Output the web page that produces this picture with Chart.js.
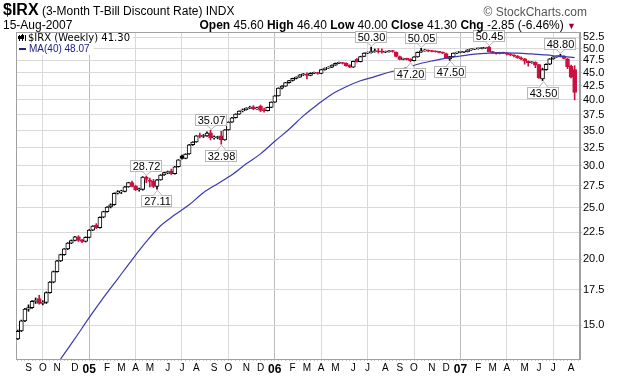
<!DOCTYPE html>
<html>
<head>
<meta charset="utf-8">
<title>$IRX weekly</title>
<script src="https://cdn.jsdelivr.net/npm/chart.js@4.4.0/dist/chart.umd.min.js"></script>
<style>
  html, body { margin: 0; padding: 0; background: #fff; }
  #wrap { position: relative; width: 620px; height: 376px; font-family: 'Liberation Sans', Arial, sans-serif; }
  #chart { position: absolute; left: 0; top: 0; }
  .hd { position: absolute; white-space: nowrap; color: #000; font-size: 12px; line-height: 14px; }
</style>
</head>
<body>
<div id="wrap">
  <canvas id="chart" width="620" height="376"></canvas>
  <div class="hd" style="left:3px;top:3px;"><b style="font-size:16px">$IRX</b> (3-Month T-Bill Discount Rate) INDX</div>
  <div class="hd" style="right:33px;top:5px;color:#555;">© StockCharts.com</div>
  <div class="hd" style="left:3px;top:18px;">15-Aug-2007</div>
  <div class="hd" style="right:44px;top:18px;"><b>Open</b> 45.60 <b>High</b> 46.40 <b>Low</b> 40.00 <b>Close</b> 41.30 <b>Chg</b> -2.85 (-6.46%) <span style="color:#a00030;font-size:9px">&#9660;</span></div>
</div>
<script>
// weekly bars, first week starts Mon 16-Aug-2004, last week 13-Aug-2007
const firstWeek = '2004-08-16';

const opens = [
  14.15,14.65,15.30,16.10,16.20,16.65,16.85,16.50,16.58,17.30,
  18.10,18.95,19.85,20.40,20.92,21.45,21.70,22.05,21.65,21.62,
  22.00,22.70,23.20,22.95,24.00,24.60,25.10,25.35,26.65,26.80,
  26.85,27.40,27.90,27.45,27.05,27.08,28.60,28.10,28.05,27.45,
  28.25,28.85,29.15,29.35,29.00,29.90,31.35,31.00,31.60,32.90,
  33.30,34.25,34.10,34.20,34.65,33.90,33.95,34.20,33.60,35.10,
  36.30,37.00,37.60,38.10,38.30,38.60,38.80,38.45,38.90,38.20,
  38.15,38.70,39.60,40.70,42.10,42.45,43.10,43.50,43.90,44.15,
  44.60,44.70,44.50,44.90,45.00,44.85,45.60,45.90,46.10,46.50,
  46.90,47.00,46.90,46.50,46.10,47.70,47.20,48.30,49.00,49.10,
  49.30,49.50,49.30,49.20,49.30,49.40,49.20,48.30,47.70,47.80,
  47.75,47.40,48.20,49.20,49.50,49.60,49.45,49.35,49.30,49.15,
  48.90,47.80,48.25,49.00,49.15,49.20,49.30,49.70,49.85,49.95,
  50.00,50.10,50.30,49.30,49.10,48.95,49.05,49.00,48.80,48.60,
  48.40,48.00,47.80,47.30,47.00,47.10,46.60,43.80,45.60,46.70,
  47.80,48.20,48.30,48.40,47.80,46.30,45.60
];
const highs = [
  14.70,15.35,16.15,16.40,16.70,16.90,17.10,16.70,17.35,18.15,
  19.00,19.90,20.45,20.95,21.50,21.75,22.10,22.15,21.80,22.05,
  22.75,23.15,23.35,24.05,24.65,25.15,25.45,26.70,26.95,27.00,
  27.45,27.95,28.10,27.60,27.25,28.65,28.72,28.45,28.30,28.30,
  28.90,29.20,29.35,29.60,29.95,30.85,31.45,31.65,32.95,33.35,
  34.25,34.60,34.40,34.80,35.07,34.20,34.15,34.90,35.15,36.35,
  37.05,37.65,38.15,38.45,38.65,38.90,39.00,38.75,39.10,38.60,
  38.75,39.65,40.75,42.15,42.55,43.15,43.55,43.95,44.20,44.65,
  44.85,45.00,45.00,45.15,45.10,45.65,45.95,46.20,46.55,46.95,
  47.15,47.10,47.00,46.60,47.35,47.85,48.35,49.05,49.25,50.30,
  49.90,50.00,49.95,49.45,49.55,49.60,49.30,48.40,47.95,47.95,
  47.85,48.25,49.25,50.05,49.80,49.70,49.60,49.50,49.40,49.25,
  49.00,48.30,49.05,49.25,49.35,49.40,49.75,49.95,50.05,50.10,
  50.20,50.25,50.45,49.40,49.20,49.20,49.20,49.10,48.90,48.70,
  48.50,48.20,47.90,47.40,47.20,47.20,46.70,45.90,46.80,47.85,
  48.25,48.40,48.80,48.50,47.90,46.50,46.40
];
const lows = [
  14.10,14.60,15.25,15.95,16.15,16.50,16.45,16.40,16.50,17.25,
  18.05,18.90,19.80,20.35,20.85,21.40,21.65,21.60,21.50,21.55,
  21.95,22.65,22.85,22.90,23.95,24.55,25.00,25.30,26.55,26.60,
  26.80,27.35,27.40,26.95,26.90,27.00,27.90,27.40,27.30,27.11,
  28.20,28.80,29.00,28.90,28.95,29.85,30.90,30.95,31.55,32.80,
  33.25,33.90,33.95,34.10,33.60,33.70,33.75,32.98,33.55,35.05,
  36.25,36.95,37.55,37.95,38.25,38.50,38.30,38.35,38.00,37.90,
  38.10,38.65,39.55,40.65,41.95,42.40,43.00,43.40,43.80,44.10,
  44.45,43.80,44.40,44.80,44.70,44.80,45.50,45.85,46.00,46.45,
  46.80,46.75,46.30,46.00,46.05,47.10,47.15,48.25,48.90,49.00,
  49.20,49.00,49.00,49.10,49.20,49.20,48.20,47.60,47.60,47.60,
  47.20,47.35,48.15,49.15,49.40,49.30,49.25,49.20,49.05,48.90,
  47.90,47.50,48.20,48.90,49.05,49.10,49.25,49.60,49.75,49.85,
  49.90,50.00,49.25,48.95,48.80,48.85,48.90,48.60,48.45,48.20,
  47.90,47.60,46.70,46.30,46.90,46.00,43.90,43.50,45.50,46.60,
  47.70,48.10,48.20,47.80,45.80,44.00,40.00
];
const closes = [
  14.62,15.30,16.10,16.20,16.65,16.72,16.50,16.58,17.30,18.10,
  18.95,19.85,20.40,20.92,21.45,21.70,22.05,21.70,21.62,22.00,
  22.70,23.10,22.95,24.00,24.60,25.10,25.35,26.65,26.80,26.85,
  27.40,27.90,27.45,27.05,27.08,28.60,28.30,28.05,27.45,28.25,
  28.85,29.15,29.20,29.00,29.90,30.80,31.00,31.60,32.90,33.30,
  34.20,34.10,34.20,34.60,33.90,33.95,34.00,33.60,35.10,36.30,
  37.00,37.60,38.10,38.30,38.60,38.70,38.45,38.60,38.20,38.15,
  38.70,39.60,40.70,42.10,42.45,43.10,43.50,43.90,44.15,44.60,
  44.70,44.50,44.90,45.00,44.85,45.60,45.90,46.10,46.50,46.90,
  47.00,46.85,46.40,46.10,47.30,47.20,48.30,49.00,49.10,49.30,
  49.50,49.30,49.20,49.30,49.40,49.35,48.30,47.70,47.80,47.70,
  47.40,48.20,49.20,49.50,49.60,49.45,49.35,49.30,49.15,49.00,
  48.00,48.25,49.00,49.15,49.20,49.30,49.70,49.85,49.95,50.00,
  50.10,50.15,49.30,49.10,48.95,49.05,49.00,48.80,48.60,48.40,
  48.00,47.80,47.30,47.00,47.10,46.50,44.00,45.60,46.70,47.80,
  48.20,48.30,48.35,47.90,46.20,44.15,41.30
];

// MA(40), every four weeks (week index -> value)
const maWeeks  = [10,12,16,20,24,28,32,36,40,44,48,52,56,60,64,68,72,76,80,84,88,92,96,100,104,108,112,116,120,124,128,132,136,140,144,148,152,156];
const maValues = [12.43,12.96,14.16,15.51,16.92,18.37,19.95,21.58,23.13,24.26,25.34,26.71,27.77,28.87,30.28,31.62,33.40,35.20,37.30,39.20,41.00,42.35,43.45,44.25,45.10,45.80,46.70,47.35,47.95,48.40,48.80,49.00,49.05,49.00,48.83,48.62,48.30,48.07];

// price labels on swing points
const annWeeks  = [36, 39, 54, 57, 99, 110, 113, 121, 132, 147, 152];
const annValues = [28.72, 27.11, 35.07, 32.98, 50.30, 47.20, 50.05, 47.50, 50.45, 43.50, 48.80];
const annSide   = ['up','down','up','down','up','down','up','down','up','down','up'];

const yTicks = [15.0, 17.5, 20.0, 22.5, 25.0, 27.5, 30.0, 32.5, 35.0, 37.5, 40.0, 42.5, 45.0, 47.5, 50.0, 52.5];
const monthLetters = ['J','F','M','A','M','J','J','A','S','O','N','D'];

// one empty week after the last bar, as on the original
const weekLabels = [];
(function() {
  const t0 = Date.parse(firstWeek + 'T00:00:00Z');
  for (let i = 0; i <= opens.length; i++) {
    weekLabels.push(new Date(t0 + i * 7 * 86400000).toISOString().slice(0, 10));
  }
})();

// tick text on the first week of each month, year number in January
// (the partial first month gets no label)
const tickText = weekLabels.map(function(d, i) {
  if (i === 0 || weekLabels[i - 1].slice(5, 7) === d.slice(5, 7)) return '';
  const m = parseInt(d.slice(5, 7), 10) - 1;
  return m === 0 ? d.slice(2, 4) : monthLetters[m];
});
const isQuarter = weekLabels.map(function(d, i) {
  const m = parseInt(d.slice(5, 7), 10) - 1;
  return tickText[i] !== '' && m % 3 === 0;
});

const RED = '#cc1040';
const MA_BLUE = '#3a3ab4';
const FONT = "'Liberation Sans', Arial, sans-serif";

const barColor = closes.map((c, i) => (i > 0 && c < closes[i - 1]) ? RED : '#000');
const bodyFill = closes.map((c, i) => c < opens[i] ? barColor[i] : '#fff');

// frame, legend and swing labels
const decorPlugin = {
  id: 'decor',
  beforeDatasetsDraw(chart) {
    const ctx = chart.ctx, a = chart.chartArea;
    ctx.save();
    ctx.strokeStyle = '#a0a0a0';
    ctx.lineWidth = 1;
    ctx.strokeRect(a.left + 0.5, a.top + 0.5, a.right - a.left - 1, a.bottom - a.top);

    // legend
    ctx.font = "10px 'DejaVu Sans', sans-serif";
    const t1 = '$IRX (Weekly) 41.30';
    const w1 = ctx.measureText(t1).width;
    ctx.fillStyle = '#fff';
    ctx.fillRect(a.left + 1, a.top + 1, w1 + 14, 11);
    ctx.font = '10px ' + FONT;
    const t2 = 'MA(40) 48.07';
    const w2 = ctx.measureText(t2).width;
    ctx.fillRect(a.left + 1, a.top + 12, w2 + 16, 11);

    // little candle icon
    ctx.fillStyle = '#000';
    ctx.fillRect(a.left + 3, a.top + 3, 1, 6);
    ctx.fillRect(a.left + 2, a.top + 4, 3, 3);
    ctx.fillRect(a.left + 6, a.top + 2, 1, 7);
    ctx.strokeStyle = '#000';
    ctx.strokeRect(a.left + 5.5, a.top + 3.5, 2, 3);
    ctx.fillRect(a.left + 9, a.top + 3, 1, 6);

    ctx.textBaseline = 'middle';
    ctx.font = "10px 'DejaVu Sans', sans-serif";
    ctx.fillText(t1, a.left + 12, a.top + 6);
    ctx.fillStyle = '#20208a';
    ctx.fillRect(a.left + 3, a.top + 16, 7, 2);
    ctx.font = '10px ' + FONT;
    ctx.fillText(t2, a.left + 13, a.top + 17);
    ctx.restore();
  },
  afterDatasetsDraw(chart) {
    const ctx = chart.ctx;
    const xs = chart.scales.x, ys = chart.scales.y;
    ctx.save();
    ctx.font = '11px ' + FONT;
    ctx.textAlign = 'center';
    ctx.textBaseline = 'middle';
    annWeeks.forEach(function(w, k) {
      const px = Math.round(xs.getPixelForValue(w));
      const py = ys.getPixelForValue(annValues[k]);
      const txt = annValues[k].toFixed(2);
      const bw = Math.round(ctx.measureText(txt).width) + 4, bh = 12;
      const up = annSide[k] === 'up';
      const gap = up ? 4 : 6;
      const top = Math.round(up ? py - gap - bh : py + gap);
      const left = px - Math.round(bw / 2);
      ctx.fillStyle = '#fff';
      ctx.strokeStyle = '#b8b8b8';
      ctx.lineWidth = 1;
      ctx.fillRect(left, top, bw, bh);
      ctx.strokeRect(left + 0.5, top + 0.5, bw - 1, bh - 1);
      // pointer
      const edge = up ? top + bh - 0.5 : top + 0.5;
      const tip = up ? py - 1 : py + 1;
      ctx.beginPath();
      ctx.moveTo(px - 4, edge);
      ctx.lineTo(px + 0.5, tip);
      ctx.lineTo(px + 5, edge);
      ctx.closePath();
      ctx.fill();
      ctx.beginPath();
      ctx.moveTo(px - 4, edge);
      ctx.lineTo(px + 0.5, tip);
      ctx.lineTo(px + 5, edge);
      ctx.stroke();
      ctx.fillStyle = '#000';
      ctx.fillText(txt, px + 0.5, top + bh / 2 + 0.5);
    });
    ctx.restore();
  }
};

new Chart(document.getElementById('chart'), {
  type: 'bar',
  data: {
    labels: weekLabels,
    datasets: [
      {
        label: 'range',
        data: lows.map((l, i) => [l, highs[i]]),
        backgroundColor: barColor,
        barThickness: 1,
        grouped: false,
        order: 3
      },
      {
        label: 'body',
        data: opens.map((o, i) => [Math.min(o, closes[i]), Math.max(o, closes[i])]),
        backgroundColor: bodyFill,
        borderColor: barColor,
        borderWidth: 1,
        borderSkipped: false,
        barThickness: 4,
        minBarLength: 1,
        grouped: false,
        order: 2
      },
      {
        type: 'line',
        label: 'MA(40)',
        data: maWeeks.map((w, k) => ({ x: weekLabels[w], y: maValues[k] })),
        borderColor: MA_BLUE,
        borderWidth: 1.2,
        pointRadius: 0,
        cubicInterpolationMode: 'monotone',
        order: 1
      }
    ]
  },
  options: {
    responsive: false,
    animation: false,
    layout: { padding: { left: 16, top: 32, right: 0, bottom: 0 } },
    plugins: {
      legend: { display: false },
      tooltip: { enabled: false },
      title: { display: false }
    },
    scales: {
      x: {
        type: 'category',
        offset: true,
        grid: {
          offset: false,
          color: ctx => isQuarter[ctx.index] ? (tickText[ctx.index].length === 2 ? '#bdbdbd' : '#d9d9d9') : 'rgba(0,0,0,0)',
          tickLength: 2,
          tickColor: '#c8c8c8'
        },
        border: { color: '#a0a0a0' },
        ticks: {
          autoSkip: false,
          maxRotation: 0,
          minRotation: 0,
          padding: 1,
          color: '#000',
          callback: (v, i) => tickText[i],
          font: ctx => (ctx.index !== undefined && tickText[ctx.index] && tickText[ctx.index].length === 2)
            ? { family: FONT, size: 12, weight: 'bold' }
            : { family: FONT, size: 10 }
        },
        afterFit: s => { s.height = 17; }
      },
      y: {
        type: 'logarithmic',
        position: 'right',
        min: 12.96,
        max: 53.72,
        afterBuildTicks: s => { s.ticks = yTicks.map(v => ({ value: v })); },
        grid: { color: '#d9d9d9', tickLength: 2, tickColor: '#c8c8c8' },
        border: { color: '#a0a0a0' },
        ticks: {
          padding: 1,
          color: '#000',
          font: { family: FONT, size: 11 },
          callback: v => Number(v).toFixed(1)
        },
        afterFit: s => { s.width = 40; }
      }
    }
  },
  plugins: [decorPlugin]
});
</script>
</body>
</html>
